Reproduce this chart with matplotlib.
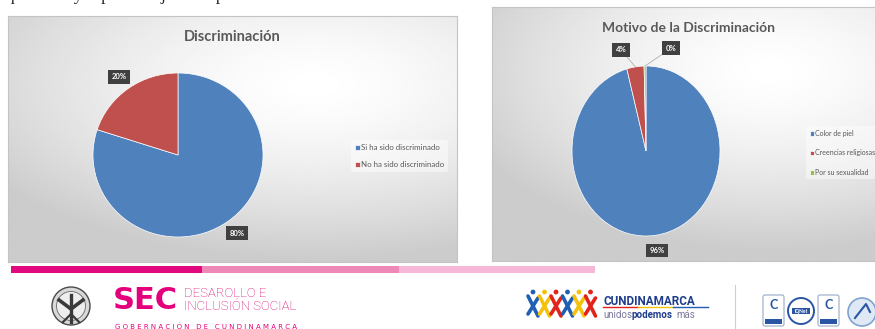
import numpy as np
import matplotlib.pyplot as plt
from matplotlib.patches import Rectangle, Circle, FancyBboxPatch

# Datos de las dos gráficas
disc_labels = ["Si ha sido discriminado", "No ha sido discriminado"]
disc_values = [80, 20]

motivo_labels = ["Color de piel", "Creencias religiosas", "Por su sexualidad"]
motivo_values = [230, 9, 1]

colores = ["#4f81bd", "#c0504d", "#9bbb59"]

W, H = 875, 329
plt.rcParams['font.family'] = ['Lato', 'DejaVu Sans']
fig = plt.figure(figsize=(W / 100, H / 100), dpi=100)
fig.patch.set_facecolor("white")


def px_axes(x0, y0, x1, y1):
    # ejes ubicados en píxeles, con origen arriba a la izquierda
    return fig.add_axes([x0 / W, 1 - y1 / H, (x1 - x0) / W, (y1 - y0) / H])


def ftext(x, y, s, **kw):
    return fig.text(x / W, 1 - y / H, s, **kw)


def panel(x0, y0, x1, y1, cx, cy):
    ax = px_axes(x0, y0, x1, y1)
    yy, xx = np.mgrid[0:1:200j, 0:1:300j]
    d = np.sqrt((xx - cx) ** 2 + ((yy - cy) * 1.2) ** 2)
    val = 1 - 0.2 * np.clip(d / 0.85, 0, 1) ** 1.5
    ax.imshow(val, cmap="gray", vmin=0, vmax=1, extent=[0, 1, 0, 1],
              aspect="auto", origin="lower")
    for s in ax.spines.values():
        s.set_color("#c4c4c4")
        s.set_linewidth(0.8)
    ax.set_xticks([])
    ax.set_yticks([])
    return ax


def pastel(x0, y0, x1, y1, values, n, overrides=None):
    ax = px_axes(x0, y0, x1, y1)
    wedges, _ = ax.pie(values, colors=colores[:n], startangle=90,
                       counterclock=False,
                       wedgeprops=dict(edgecolor="white", linewidth=0.5))
    ax.set_aspect("auto")
    ax.set_xlim(-1, 1)
    ax.set_ylim(-1, 1)
    ax.axis("off")
    total = float(sum(values))
    caja = dict(boxstyle="square,pad=0.45", fc="#404040", ec="none")
    for i, w in enumerate(wedges):
        pct = "%d%%" % round(100 * values[i] / total)
        mid = np.radians((w.theta1 + w.theta2) / 2)
        edge = (np.cos(mid), np.sin(mid))
        if overrides and i in overrides:
            pos = overrides[i]
            ax.annotate(pct, xy=edge, xytext=pos, ha="center", va="center",
                        fontsize=5.5, fontweight="bold", color="white",
                        bbox=caja,
                        arrowprops=dict(arrowstyle="-", color="#b0b0b0",
                                        lw=0.6, shrinkA=0, shrinkB=0))
        else:
            ax.text(1.18 * edge[0], 1.18 * edge[1], pct, ha="center",
                    va="center", fontsize=5.5, fontweight="bold",
                    color="white", bbox=caja)
    return wedges


# Panel izquierdo: Discriminación
panel(8, 16, 457, 262, 0.68, 0.72)
w1 = pastel(93, 73, 263, 237, disc_values, 2)
ftext(232, 37, "Discriminación", ha="center", va="center", fontsize=10.5,
      fontweight="bold", color="#595959")
fig.legend(w1, disc_labels, loc="upper left",
           bbox_to_anchor=(347 / W, 1 - 136 / H), fontsize=5.7,
           handlelength=0.6, handleheight=0.6, handletextpad=0.15,
           labelspacing=1.25, borderpad=0.5, frameon=True,
           facecolor="white", framealpha=0.45, edgecolor="none",
           labelcolor="#595959")

# Panel derecho: Motivo de la Discriminación
panel(492, 7, 878, 261, 0.72, 0.75)
w2 = pastel(572, 66, 720, 236, motivo_values, 3,
            overrides={1: (-0.34, 1.19), 2: (0.34, 1.21)})
ftext(688, 28, "Motivo de la Discriminación", ha="center", va="center",
      fontsize=10, fontweight="bold", color="#595959")
fig.legend(w2, motivo_labels, loc="upper left",
           bbox_to_anchor=(803 / W, 1 - 123 / H), fontsize=5.0,
           handlelength=0.6, handleheight=0.6, handletextpad=0.15,
           labelspacing=1.8, borderpad=0.5, frameon=True,
           facecolor="white", framealpha=0.45, edgecolor="none",
           labelcolor="#595959")

# Texto superior (renglón cortado por el borde)
ftext(6, 0.5, "que el mayor porcentaje de la población encuestada se ha sentido "
      "discriminada.", fontsize=12.5, family="Liberation Serif",
      va="baseline", color="#222222")

# Pie de página institucional
ov = fig.add_axes([0, 0, 1, 1], zorder=-1)
ov.set_xlim(0, W)
ov.set_ylim(H, 0)
ov.axis("off")

for x0, x1, c in ((11, 202, "#e2097f"), (202, 399, "#ee88b8"),
                  (399, 595, "#f6b8d6")):
    ov.add_patch(Rectangle((x0, 266), x1 - x0, 6.5, color=c, lw=0))

# Escudo
ov.add_patch(Circle((71, 306), 19, fc="#d9d9d9", ec="#4a4a4a", lw=1.0))
ov.add_patch(Circle((71, 306), 14.5, fc="#eeeeee", ec="#666666", lw=0.6))
ov.plot([59, 71, 83], [300, 309, 300], color="#3a3a3a", lw=2.6)
ov.plot([71, 71], [295, 322], color="#3a3a3a", lw=2.4)
ov.plot([63, 71, 79], [322, 314, 322], color="#3a3a3a", lw=1.6)

ftext(113, 309, "SEC", fontsize=22, fontweight="heavy", color="#e4007d",
      family="DejaVu Sans", va="baseline")
ftext(184, 297, "DESAROLLO E", fontsize=9.5, family="Roboto",
      fontweight="light", color="#d6006f", va="baseline")
ftext(184, 309.5, "INCLUSIÓN SOCIAL", fontsize=9.5, family="Roboto",
      fontweight="light", color="#d6006f", va="baseline")
ftext(115, 329, " ".join("GOBERNACIÓN DE CUNDINAMARCA"), fontsize=5,
      color="#e4007d", va="baseline", family="DejaVu Sans")

# Logo Cundinamarca
fig_cols = ["#1f5fb4", "#f4c20d", "#e2231a", "#1f5fb4", "#f4c20d", "#e2231a"]
for k, c in enumerate(fig_cols):
    cx = 533 + k * 11.5
    ov.plot([cx - 5, cx + 5], [296, 316], color=c, lw=2.6,
            solid_capstyle="round")
    ov.plot([cx + 5, cx - 5], [298, 314], color=c, lw=2.6,
            solid_capstyle="round")
    ov.add_patch(Circle((cx, 292), 2.4, color=c, lw=0))
ftext(603, 305, "CUNDINAMARCA", fontsize=8.5, fontweight="bold",
      family="Roboto", color="#1d3c8c", va="baseline")
for x0, x1, c in ((603, 638, "#e2231a"), (638, 673, "#f4c20d"),
                  (673, 708, "#1f5fb4")):
    ov.plot([x0, x1], [307, 307], color=c, lw=1)
ftext(603, 318, "unidos", fontsize=7, family="Roboto", color="#7a7a9a",
      va="baseline")
ftext(632, 318, "podemos", fontsize=7, family="Roboto", fontweight="bold",
      color="#1d3c8c", va="baseline")
ftext(676, 318, "más", fontsize=7, family="Roboto", color="#7a7a9a",
      va="baseline")
ov.plot([735, 735], [285, 329], color="#d0d0d0", lw=0.8)

# Sellos de certificación
for x0 in (763, 818):
    ov.add_patch(FancyBboxPatch((x0, 295), 21, 31,
                                boxstyle="round,pad=0,rounding_size=2",
                                fc="white", ec="#9aa9c9", lw=0.8))
    ov.add_patch(Rectangle((x0 + 2, 319), 17, 5, color="#2a55a5", lw=0))
    ftext(x0 + 10.5, 309, "C", fontsize=9, fontweight="bold",
          color="#2a55a5", ha="center", va="baseline")
ov.add_patch(Circle((801, 311), 13, fc="white", ec="#2a55a5", lw=1.4))
ov.add_patch(Rectangle((792, 308), 18, 6, color="#2a55a5", lw=0))
ftext(801, 311, "IQNet", fontsize=3.5, color="white", ha="center",
      va="center", fontweight="bold")
ov.add_patch(Circle((862, 312), 14, fc="#dfe9f5", ec="#7ea3cf", lw=1.2))
ov.plot([855, 866, 870], [318, 304, 312], color="#2a55a5", lw=1.5)

fig.savefig("out.png", dpi=100)
